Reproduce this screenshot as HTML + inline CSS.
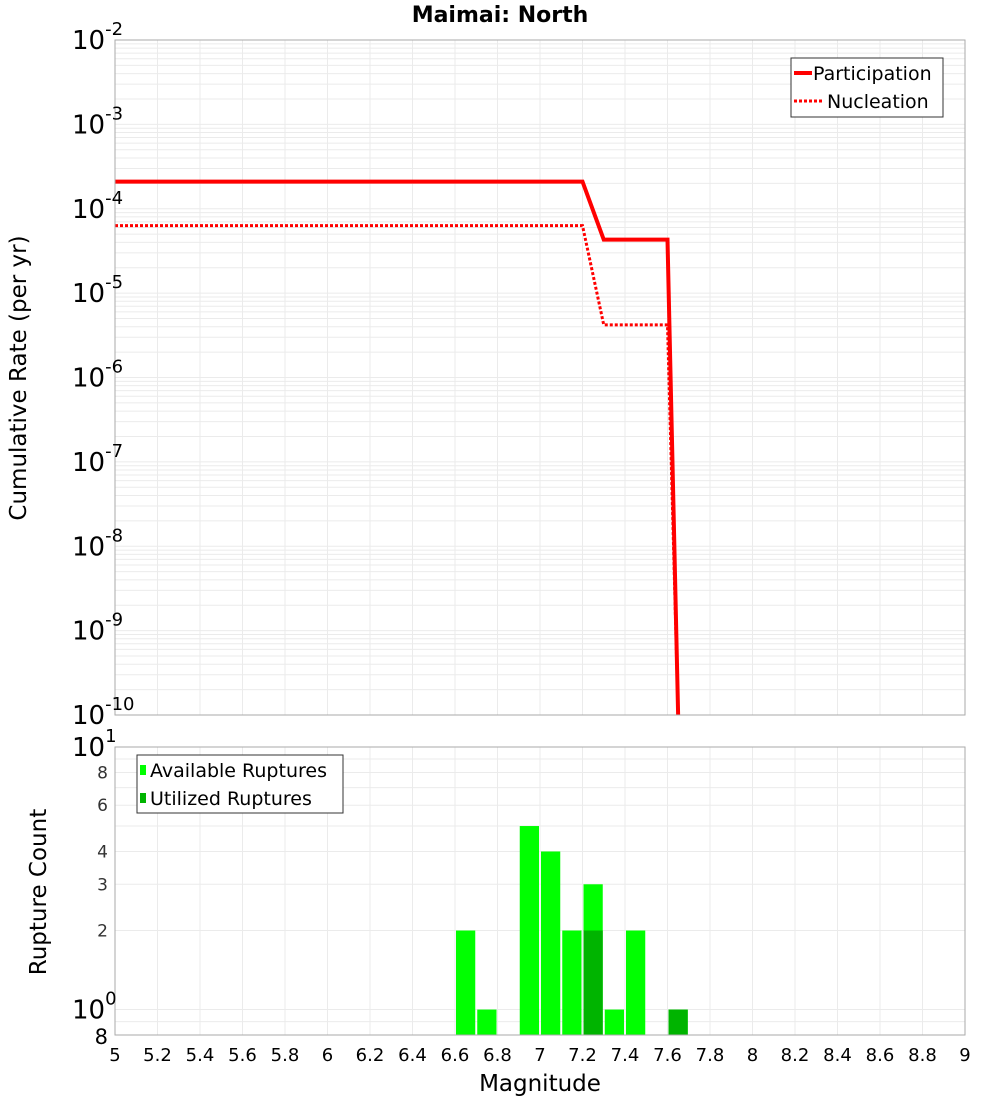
<!DOCTYPE html>
<html><head><meta charset="utf-8"><style>body{margin:0;background:#fff}svg{font-family:"DejaVu Sans","Liberation Sans",sans-serif}</style></head>
<body>
<svg id="c" width="1000" height="1100" xmlns="http://www.w3.org/2000/svg"></svg>
<script>
const partMag=[5,7.2,7.3,7.6,7.65];
const partRate=[2.1e-4,2.1e-4,4.3e-5,4.3e-5,1e-10];
const nuclMag=[5,7.2,7.3,7.6,7.65];
const nuclRate=[6.3e-5,6.3e-5,4.2e-6,4.2e-6,1e-10];
const binMag=[6.65,6.75,6.95,7.05,7.15,7.25,7.35,7.45,7.65];
const availCount=[2,1,5,4,2,3,1,2,1];
const utilMag=[7.25,7.65];
const utilCount=[2,1];
const xTicks=[5,5.2,5.4,5.6,5.8,6,6.2,6.4,6.6,6.8,7,7.2,7.4,7.6,7.8,8,8.2,8.4,8.6,8.8,9];
const topExp=[-2,-3,-4,-5,-6,-7,-8,-9,-10];
const botTicks=[8,6,4,3,2];

const svg=document.getElementById('c');const NS='http://www.w3.org/2000/svg';
function mk(t,a,p,txt){const e=document.createElementNS(NS,t);for(const k in a)e.setAttribute(k,a[k]);if(txt!=null)e.textContent=txt;(p||svg).appendChild(e);return e;}
const L=115,R=965,T1=40,B1=715,T2=747,B2=1035;
const X=m=>L+(m-5)/4*(R-L);
const Y1=v=>T1+(-2-Math.log10(v))/8*(B1-T1);
const Y2=v=>T2+(1-Math.log10(v))/(1-Math.log10(0.8))*(B2-T2);

const g1=mk('g',{});
for(let e=-10;e<-2;e++)for(let k=1;k<10;k++){const y=Y1(k*Math.pow(10,e));mk('line',{x1:L,x2:R,y1:y,y2:y,stroke:'#ebebeb'},g1);}
const g2=mk('g',{});
[0.8,0.9,1,2,3,4,5,6,7,8,9].forEach(v=>{const y=Y2(v);mk('line',{x1:L,x2:R,y1:y,y2:y,stroke:'#ebebeb'},g2);});
xTicks.forEach(m=>{const x=X(m);mk('line',{x1:x,x2:x,y1:T1,y2:B1,stroke:'#ebebeb'},g1);mk('line',{x1:x,x2:x,y1:T2,y2:B2,stroke:'#ebebeb'},g2);});

const t=mk('text',{x:500,y:22,'text-anchor':'middle','font-size':22,'font-weight':'bold'},null,'Maimai: North');

function pl(ms,rs,dash,name){const p=mk('polyline',{points:ms.map((m,i)=>X(m)+','+Y1(rs[i])).join(' '),fill:'none',stroke:'#ff0000','stroke-width':dash?3:4});if(dash)p.setAttribute('stroke-dasharray','3,2');}
pl(nuclMag,nuclRate,true,'nucleation-line');
pl(partMag,partRate,false,'participation-line');

binMag.forEach((m,i)=>{const r=mk('rect',{x:X(m-0.05)+1,y:Y2(availCount[i]),width:X(m+0.05)-X(m-0.05)-2,height:B2-Y2(availCount[i]),fill:'#00ff00'});});
utilMag.forEach((m,i)=>{const r=mk('rect',{x:X(m-0.05)+1,y:Y2(utilCount[i]),width:X(m+0.05)-X(m-0.05)-2,height:B2-Y2(utilCount[i]),fill:'#00b400'});});

const f1=mk('rect',{x:L,y:T1,width:R-L,height:B1-T1,fill:'none',stroke:'#aaa'});
const f2=mk('rect',{x:L,y:T2,width:R-L,height:B2-T2,fill:'none',stroke:'#aaa'});

topExp.forEach(e=>{const y=Y1(Math.pow(10,e));const tx=mk('text',{x:72,y:y+9,'font-size':26});
mk('tspan',{},tx,'10');mk('tspan',{dy:-14,'font-size':18},tx,String(e));});
let tx=mk('text',{x:72,y:T2+9,'font-size':26});mk('tspan',{},tx,'10');mk('tspan',{dy:-14,'font-size':18},tx,'1');
tx=mk('text',{x:72,y:Y2(1)+9,'font-size':26});mk('tspan',{},tx,'10');mk('tspan',{dy:-14,'font-size':18},tx,'0');
botTicks.forEach(v=>{const e=mk('text',{x:108,y:Y2(v)+6,'font-size':17,'text-anchor':'end',fill:'#333'},null,String(v));});
tx=mk('text',{x:108,y:B2+9,'font-size':21,'text-anchor':'end'},null,'8');
xTicks.forEach(m=>{const e=mk('text',{x:X(m),y:1061,'font-size':18,'text-anchor':'middle'},null,String(m));});
tx=mk('text',{x:540,y:1091,'font-size':23,'text-anchor':'middle'},null,'Magnitude');
tx=mk('text',{x:0,y:0,'font-size':23,'text-anchor':'middle',transform:'translate(26,378) rotate(-90)'},null,'Cumulative Rate (per yr)');
tx=mk('text',{x:0,y:0,'font-size':23,'text-anchor':'middle',transform:'translate(46,892) rotate(-90)'},null,'Rupture Count');

let lg=mk('g',{});
mk('rect',{x:791,y:58,width:152,height:59,fill:'#fff',stroke:'#333'},lg);
mk('line',{x1:794,x2:812,y1:73,y2:73,stroke:'#f00','stroke-width':4},lg);
mk('text',{x:813,y:80,'font-size':19},lg,'Participation');
mk('line',{x1:794,x2:822,y1:101,y2:101,stroke:'#f00','stroke-width':3,'stroke-dasharray':'3,2'},lg);
mk('text',{x:827,y:108,'font-size':19},lg,'Nucleation');
lg=mk('g',{});
mk('rect',{x:137,y:755,width:206,height:58,fill:'#fff',stroke:'#333'},lg);
mk('rect',{x:140,y:765,width:6,height:10,fill:'#00ff00'},lg);
mk('text',{x:150,y:777,'font-size':19},lg,'Available Ruptures');
mk('rect',{x:140,y:793,width:6,height:10,fill:'#00b400'},lg);
mk('text',{x:150,y:805,'font-size':19},lg,'Utilized Ruptures');
</script>
</body></html>
